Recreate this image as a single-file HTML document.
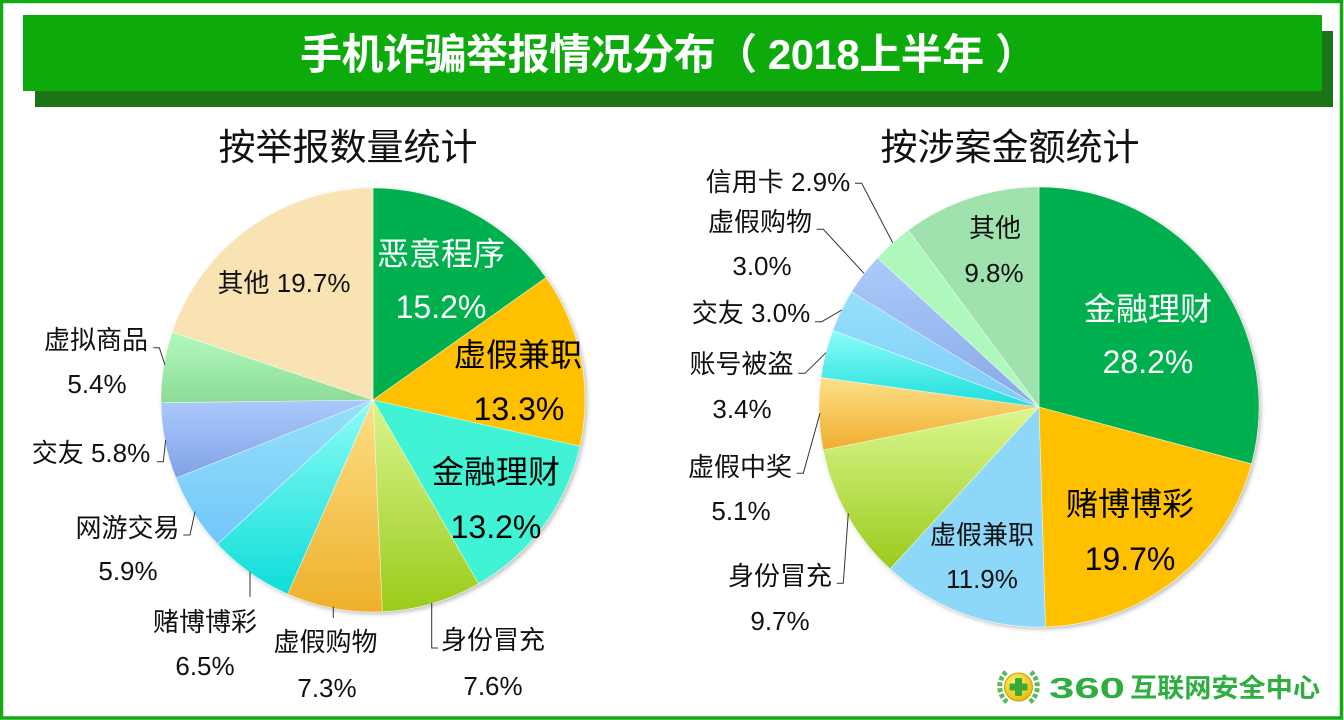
<!DOCTYPE html>
<html><head><meta charset="utf-8"><style>
html,body{margin:0;padding:0;background:#fff;}
svg{display:block;}
text{font-family:"Liberation Sans","Noto Sans CJK SC","Microsoft YaHei",sans-serif;}
</style></head><body>
<svg width="1344" height="720" viewBox="0 0 1344 720" xmlns="http://www.w3.org/2000/svg">
<defs>
<linearGradient id="gL4" x1="0" y1="0" x2="0" y2="1"><stop offset="0" stop-color="#DAF58E"/><stop offset="1" stop-color="#9BCB1A"/></linearGradient>
<linearGradient id="gL5" x1="0" y1="0" x2="0" y2="1"><stop offset="0" stop-color="#FCDF88"/><stop offset="1" stop-color="#EEB02A"/></linearGradient>
<linearGradient id="gL6" x1="0" y1="0" x2="0" y2="1"><stop offset="0" stop-color="#8CFCF6"/><stop offset="1" stop-color="#0EDDD9"/></linearGradient>
<linearGradient id="gL7" x1="0" y1="0" x2="0" y2="1"><stop offset="0" stop-color="#96E1F8"/><stop offset="1" stop-color="#72C6FA"/></linearGradient>
<linearGradient id="gL8" x1="0" y1="0" x2="0" y2="1"><stop offset="0" stop-color="#AACAFD"/><stop offset="1" stop-color="#80A2E5"/></linearGradient>
<linearGradient id="gL9" x1="0" y1="0" x2="0" y2="1"><stop offset="0" stop-color="#B2FABF"/><stop offset="1" stop-color="#8DDB96"/></linearGradient>
<linearGradient id="gR4" x1="0" y1="0" x2="0" y2="1"><stop offset="0" stop-color="#DAF78E"/><stop offset="1" stop-color="#9CCA1C"/></linearGradient>
<linearGradient id="gR5" x1="0" y1="0" x2="0" y2="1"><stop offset="0" stop-color="#FDE08A"/><stop offset="1" stop-color="#EFAE2C"/></linearGradient>
<linearGradient id="gR6" x1="0" y1="0" x2="0" y2="1"><stop offset="0" stop-color="#8CFCF8"/><stop offset="1" stop-color="#1CDFDC"/></linearGradient>
<linearGradient id="gR7" x1="0" y1="0" x2="0" y2="1"><stop offset="0" stop-color="#96E2FA"/><stop offset="1" stop-color="#7ECBF9"/></linearGradient>
<linearGradient id="gR8" x1="0" y1="0" x2="0" y2="1"><stop offset="0" stop-color="#ABCBFB"/><stop offset="1" stop-color="#88A8E6"/></linearGradient>
<radialGradient id="logoG" cx="0.4" cy="0.35" r="0.7"><stop offset="0" stop-color="#FFF27A"/><stop offset="1" stop-color="#E8B800"/></radialGradient>
<filter id="sh" x="-10%" y="-10%" width="120%" height="120%"><feDropShadow dx="2" dy="2" stdDeviation="2" flood-color="#000" flood-opacity="0.25"/></filter>
</defs>

<!-- outer border -->
<rect x="1.5" y="1.5" width="1340" height="716.5" fill="#fff" stroke="#14AA14" stroke-width="3.5"/>

<!-- banner -->
<rect x="35" y="31" width="1298" height="76" fill="#1B7415"/>
<rect x="23" y="15" width="1299" height="76" fill="#0DAA0B"/>
<text x="300" y="69" font-size="42" font-weight="bold" fill="#fff" textLength="737" lengthAdjust="spacing">手机诈骗举报情况分布（ 2018上半年 ）</text>

<!-- titles -->
<text x="348" y="160" font-size="37" text-anchor="middle" fill="#111">按举报数量统计</text>
<text x="1010" y="160" font-size="37" text-anchor="middle" fill="#111">按涉案金额统计</text>

<!-- LEFT PIE -->
<g filter="url(#sh)" stroke="#fff" stroke-width="0.6" stroke-opacity="0.7">
<path d="M373,400 L373,188 A212,212 0 0 1 546.06,277.55 Z" fill="#00B050"/>
<path d="M373,400 L546.06,277.55 A212,212 0 0 1 579.9,446.24 Z" fill="#FFC000"/>
<path d="M373,400 L579.9,446.24 A212,212 0 0 1 478.6,583.8 Z" fill="#3FF3D5"/>
<path d="M373,400 L478.6,583.8 A212,212 0 0 1 382.32,611.8 Z" fill="url(#gL4)"/>
<path d="M373,400 L382.32,611.8 A212,212 0 0 1 287.6,594.0 Z" fill="url(#gL5)"/>
<path d="M373,400 L287.6,594.0 A212,212 0 0 1 217.5,544.1 Z" fill="url(#gL6)"/>
<path d="M373,400 L217.5,544.1 A212,212 0 0 1 175.9,478.0 Z" fill="url(#gL7)"/>
<path d="M373,400 L175.9,478.0 A212,212 0 0 1 161.0,402.7 Z" fill="url(#gL8)"/>
<path d="M373,400 L161.0,402.7 A212,212 0 0 1 172.2,331.95 Z" fill="url(#gL9)"/>
<path d="M373,400 L172.2,331.95 A212,212 0 0 1 373,188 Z" fill="#F9E3B3"/>
</g>

<!-- left leader lines -->
<g stroke="#333" stroke-width="1" fill="none">
<polyline points="153.3,347.7 159.3,347.7 165,365"/>
<polyline points="165.7,440 163.3,461.7 156.7,461.7"/>
<polyline points="183.3,535 190,535 195,511.7"/>
<line x1="250" y1="571.7" x2="250" y2="596.7"/>
<line x1="333.3" y1="606.7" x2="333.3" y2="618"/>
<polyline points="431.7,603 431.7,648 438,648"/>
</g>

<!-- left labels -->
<g font-size="32" text-anchor="middle">
<text x="441" y="265" fill="#fff">恶意程序</text>
<text x="441" y="318" fill="#fff">15.2%</text>
<text x="518" y="366" fill="#000">虚假兼职</text>
<text x="519" y="420" fill="#000">13.3%</text>
<text x="496" y="483" fill="#000">金融理财</text>
<text x="496" y="538" fill="#000">13.2%</text>
</g>
<g font-size="26" text-anchor="middle" fill="#111">
<text x="284" y="292">其他 19.7%</text>
<text x="96" y="349">虚拟商品</text>
<text x="97" y="393">5.4%</text>
<text x="91" y="462">交友 5.8%</text>
<text x="127.5" y="537">网游交易</text>
<text x="128" y="580">5.9%</text>
<text x="205" y="631">赌博博彩</text>
<text x="205" y="675">6.5%</text>
<text x="325.5" y="651">虚假购物</text>
<text x="327" y="697">7.3%</text>
<text x="493" y="649">身份冒充</text>
<text x="493" y="695">7.6%</text>
</g>

<!-- RIGHT PIE -->
<g filter="url(#sh)" stroke="#fff" stroke-width="0.6" stroke-opacity="0.7">
<path d="M1039,407 L1039,187 A220,220 0 0 1 1251.5,463.9 Z" fill="#00B050"/>
<path d="M1039,407 L1251.5,463.9 A220,220 0 0 1 1045.45,626.9 Z" fill="#FFC000"/>
<path d="M1039,407 L1045.45,626.9 A220,220 0 0 1 890.0,568.9 Z" fill="#8DD7F9"/>
<path d="M1039,407 L890.0,568.9 A220,220 0 0 1 823.2,450.0 Z" fill="url(#gR4)"/>
<path d="M1039,407 L823.2,450.0 A220,220 0 0 1 821.0,377.45 Z" fill="url(#gR5)"/>
<path d="M1039,407 L821.0,377.45 A220,220 0 0 1 832.8,330.4 Z" fill="url(#gR6)"/>
<path d="M1039,407 L832.8,330.4 A220,220 0 0 1 851.5,291.9 Z" fill="url(#gR7)"/>
<path d="M1039,407 L851.5,291.9 A220,220 0 0 1 877.4,257.8 Z" fill="url(#gR8)"/>
<path d="M1039,407 L877.4,257.8 A220,220 0 0 1 908.2,230.1 Z" fill="#AEF8BE"/>
<path d="M1039,407 L908.2,230.1 A220,220 0 0 1 1039,187 Z" fill="#A0E2AE"/>
</g>

<!-- right leader lines -->
<g stroke="#333" stroke-width="1" fill="none">
<polyline points="855,183.3 861.7,183.3 892.7,242.7"/>
<polyline points="816.7,229.3 823.3,229.3 864,273.3"/>
<polyline points="815,321.7 821.7,321.7 841.7,310"/>
<polyline points="798.3,373.3 805,373.3 826,352.7"/>
<polyline points="820,413.3 803.3,473.3 796.7,473.3"/>
<polyline points="848.3,513.3 843.3,583.3 836.7,583.3"/>
</g>

<!-- right labels -->
<g font-size="32" text-anchor="middle">
<text x="1148" y="320" fill="#fff">金融理财</text>
<text x="1148" y="373" fill="#fff">28.2%</text>
<text x="1130" y="515" fill="#000">赌博博彩</text>
<text x="1130" y="570" fill="#000">19.7%</text>
</g>
<g font-size="26" text-anchor="middle" fill="#111">
<text x="982" y="544">虚假兼职</text>
<text x="982" y="588">11.9%</text>
<text x="995" y="237">其他</text>
<text x="994" y="282">9.8%</text>
<text x="778" y="191">信用卡 2.9%</text>
<text x="760" y="231">虚假购物</text>
<text x="762" y="275">3.0%</text>
<text x="751" y="322">交友 3.0%</text>
<text x="741.5" y="373">账号被盗</text>
<text x="742" y="418">3.4%</text>
<text x="740" y="476">虚假中奖</text>
<text x="741" y="520">5.1%</text>
<text x="780" y="585">身份冒充</text>
<text x="780" y="630">9.7%</text>
</g>

<!-- logo -->
<g>
<path d="M1007,702 A20,20 0 0 1 1006,672" stroke="#5BB85B" stroke-width="5" fill="none" stroke-dasharray="4 2"/>
<path d="M1030,702 A20,20 0 0 0 1031,672" stroke="#5BB85B" stroke-width="5" fill="none" stroke-dasharray="4 2"/>
<circle cx="1018.5" cy="687" r="14" fill="url(#logoG)" stroke="#C9A000" stroke-width="1"/>
<rect x="1015" y="678" width="7" height="18" rx="1.5" fill="#3BA935"/>
<rect x="1009.5" y="683.5" width="18" height="7" rx="1.5" fill="#3BA935"/>
<text x="1049" y="698" font-size="29" font-weight="bold" fill="#2EAE3F" textLength="76" lengthAdjust="spacingAndGlyphs">360</text>
<text x="1130" y="697" font-size="26" font-weight="bold" fill="#2EAE3F" textLength="190" lengthAdjust="spacingAndGlyphs">互联网安全中心</text>
</g>
</svg>
</body></html>
